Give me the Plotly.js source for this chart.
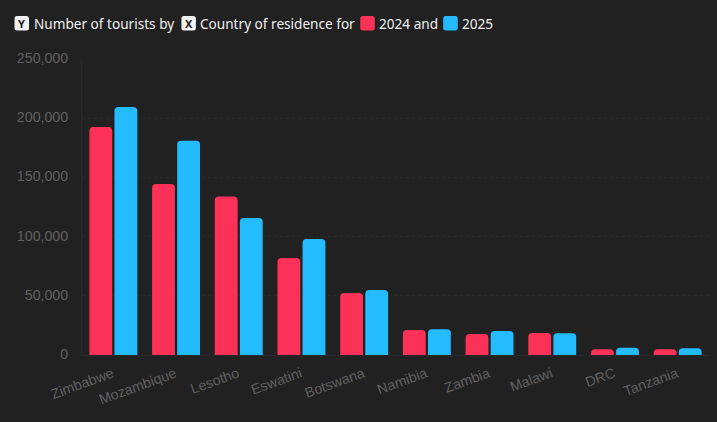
<!DOCTYPE html>
<html><head><meta charset="utf-8">
<script src="https://cdn.plot.ly/plotly-3.0.1.min.js"></script>
<style>html,body{margin:0;padding:0;background:#212121;overflow:hidden}</style></head>
<body><div id="chart" style="width:717px;height:422px"></div>
<script>
const categories=["Zimbabwe","Mozambique","Lesotho","Eswatini","Botswana","Namibia","Zambia","Malawi","DRC","Tanzania"];
const values2024=[192500,144400,133800,82000,52400,21100,17700,18600,4800,4800];
const values2025=[209500,181000,115700,98000,54900,21700,20300,18300,6200,5600];
const yTicks=[0,50000,100000,150000,200000,250000];
const W=717,H=422;
const headerFont={family:"Noto Sans, Open Sans, sans-serif",size:13.6,color:"#f0f0f0"};
const chips=[{x:14,c:"#f2f2f2",l:"Y"},{x:181,c:"#f2f2f2",l:"X"},{x:360,c:"#fb3158"},{x:443,c:"#25bcff"}];
const texts=[{x:34,t:"Number of tourists by"},{x:200.5,t:"Country of residence for"},{x:379,t:"2024 and"},{x:462.5,t:"2025"}];
const margin={l:81.5,r:8,t:59,b:67};
const pw=W-margin.l-margin.r,ph=H-margin.t-margin.b;
const px=x=>(x-margin.l)/pw, py=y=>1-(y-margin.t)/ph;
const shapes=chips.map(c=>{
 const x0=c.x,x1=c.x+14.5,y0=16,y1=30.5,r=2.5;
 return {type:"path",xref:"paper",yref:"paper",fillcolor:c.c,line:{width:0},layer:"above",
 path:`M${px(x0+r)},${py(y0)}L${px(x1-r)},${py(y0)}Q${px(x1)},${py(y0)} ${px(x1)},${py(y0+r)}L${px(x1)},${py(y1-r)}Q${px(x1)},${py(y1)} ${px(x1-r)},${py(y1)}L${px(x0+r)},${py(y1)}Q${px(x0)},${py(y1)} ${px(x0)},${py(y1-r)}L${px(x0)},${py(y0+r)}Q${px(x0)},${py(y0)} ${px(x0+r)},${py(y0)}Z`};});
const annotations=texts.map(t=>({xref:"paper",yref:"paper",x:px(t.x),y:py(23.5),xanchor:"left",yanchor:"middle",xshift:-1.5,text:t.t,showarrow:false,font:headerFont,borderpad:0}));
chips.filter(c=>c.l).forEach(c=>annotations.push({xref:"paper",yref:"paper",x:px(c.x+7.25),y:py(23.5),xanchor:"center",yanchor:"middle",text:"<b>"+c.l+"</b>",showarrow:false,font:{family:"Noto Sans, sans-serif",size:11,color:"#222"}}));
const bar=(name,y,color)=>({type:"bar",name,x:categories,y,marker:{color,line:{width:0}},hoverinfo:"x+y"});
Plotly.newPlot("chart",[bar("2024",values2024,"#fb3158"),bar("2025",values2025,"#25bcff")],{
 width:W,height:H,margin,paper_bgcolor:"#212121",plot_bgcolor:"#212121",showlegend:false,
 barmode:"group",bargap:0.2,bargroupgap:0.09,barcornerradius:4,
 xaxis:{type:"category",tickangle:-20,ticklabelstandoff:7,ticklabelshift:-1,tickfont:{family:"Liberation Sans, Arial, sans-serif",size:14.2,color:"#606060"},showgrid:false,showline:false,zeroline:false,ticks:"",ticklen:0,automargin:false},
 yaxis:{range:[0,250000],tickvals:yTicks,tickformat:",",ticklabelstandoff:10,ticklabelshift:-1,tickfont:{family:"Liberation Sans, Arial, sans-serif",size:14.2,color:"#606060"},gridcolor:"#282828",griddash:"dot",gridwidth:1,zeroline:true,zerolinecolor:"#282828",showline:true,linecolor:"#282828",ticks:"",automargin:false},
 shapes,annotations
},{displayModeBar:false,responsive:false});
</script></body></html>
